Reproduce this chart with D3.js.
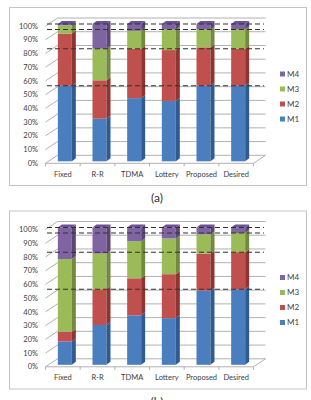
<!DOCTYPE html>
<html>
<head>
<meta charset="utf-8">
<script src="https://cdn.jsdelivr.net/npm/d3@7"></script>
<style>
    html, body { margin: 0; padding: 0; background: #fff; }
    svg { display: block; font-family: Lato, "Liberation Sans", sans-serif; }
</style>
</head>
<body>
<div id="chart"></div>
<script>
// categories and series
const categories = ["Fixed", "R-R", "TDMA", "Lottery", "Proposed", "Desired"];
const seriesNames = ["M1", "M2", "M3", "M4"];
const yTicks = [0, 10, 20, 30, 40, 50, 60, 70, 80, 90, 100];

// chart (a) values, percent
const m1a = [55, 31, 46, 44, 55, 55];
const m2a = [38, 28, 36, 37, 28, 27];
const m3a = [6, 23, 13, 15, 13, 14];
const m4a = [1, 18, 5, 4, 4, 4];

// chart (b) values, percent
const m1b = [17, 29, 36, 34, 54, 55];
const m2b = [7, 26, 27, 32, 27, 27];
const m3b = [53, 26, 27, 26, 14, 14];
const m4b = [23, 19, 10, 8, 5, 4];

// dashed reference levels (cumulative desired)
const refLevels = [55, 82, 96, 100];

const captions = ["(a)", "(b)"];

const frontColors = { M1: "#4a7ebf", M2: "#c0504d", M3: "#9bbb59", M4: "#8064a2" };
const sideColors = { M1: "#2f5b92", M2: "#8e3532", M3: "#728a40", M4: "#5c4677" };
const topColors = { M1: "#7199cf", M2: "#d37b78", M3: "#b4cd83", M4: "#6a5395" };

const W = 311, H = 400;
const svg = d3.select("#chart").append("svg")
    .attr("width", W)
    .attr("height", H);

// wall depth and bar depth
const wdx = 12, wdy = -8;
const bdx = 4, bdy = -3;
const offX = 3, offY = -2;

const x = d3.scaleBand()
    .domain(categories)
    .range([45.5, 253.5]);

const y = d3.scaleLinear()
    .domain([0, 100])
    .range([163.3, 26]);

const drawChart = (g, cols, caption) => {
    const rows = categories.map((c, i) => {
        const r = { category: c };
        seriesNames.forEach((s, k) => { r[s] = cols[k][i]; });
        return r;
    });
    const stacked = d3.stack().keys(seriesNames)(rows);

    // frame
    g.append("rect")
        .attr("x", 9.5).attr("y", 7.5)
        .attr("width", 297).attr("height", 178)
        .attr("fill", "#fff")
        .attr("stroke", "#c4c4c4")
        .attr("stroke-width", 1);

    // gridlines on side and back wall
    g.append("g")
        .selectAll("path")
        .data(yTicks)
        .enter()
        .append("path")
        .attr("d", t => {
            const y0 = y(t);
            const x0 = x.range()[0];
            return `M${x0},${y0} L${x0 + wdx},${y0 + wdy} L${x.range()[1] + wdx},${y0 + wdy}`;
        })
        .attr("fill", "none")
        .attr("stroke", "#a8a8a8")
        .attr("stroke-width", 0.9);

    // floor front edge and right edge
    const fy = y(0);
    g.append("path")
        .attr("d", `M${x.range()[0]},${fy} L${x.range()[1]},${fy} L${x.range()[1] + wdx},${fy + wdy}`)
        .attr("fill", "none")
        .attr("stroke", "#a8a8a8")
        .attr("stroke-width", 0.9);

    // category boundary ticks
    const bounds = categories.map(c => x(c)).concat([x.range()[1]]);
    g.append("g")
        .selectAll("line")
        .data(bounds)
        .enter()
        .append("line")
        .attr("x1", d => d).attr("x2", d => d)
        .attr("y1", fy).attr("y2", fy + 3)
        .attr("stroke", "#a8a8a8")
        .attr("stroke-width", 0.9);

    // y tick labels
    g.append("g")
        .selectAll("text")
        .data(yTicks)
        .enter()
        .append("text")
        .attr("x", 38)
        .attr("y", t => y(t))
        .attr("dy", "0.35em")
        .attr("text-anchor", "end")
        .style("font-size", "7.5px")
        .attr("fill", "#404040")
        .text(t => t + "%");

    // category labels
    g.append("g")
        .selectAll("text")
        .data(categories)
        .enter()
        .append("text")
        .attr("x", c => x(c) + x.bandwidth() / 2)
        .attr("y", 174)
        .attr("dy", "0.35em")
        .attr("text-anchor", "middle")
        .style("font-size", "7.5px")
        .attr("fill", "#404040")
        .text(c => c);

    // 3d bars
    const barW = 14;
    const bars = g.append("g");
    stacked.forEach(layer => {
        layer.forEach(d => {
            if (d[1] - d[0] <= 0) return;
            const xl = x(d.data.category) + x.bandwidth() / 2 - 8 + offX;
            const xr = xl + barW;
            const yb = y(d[0]) + offY;
            const yt = y(d[1]) + offY;
            bars.append("rect")
                .attr("x", xl).attr("y", yt)
                .attr("width", barW).attr("height", yb - yt)
                .attr("fill", frontColors[layer.key]);
            bars.append("path")
                .attr("d", `M${xr},${yb} L${xr + bdx},${yb + bdy} L${xr + bdx},${yt + bdy} L${xr},${yt} Z`)
                .attr("fill", sideColors[layer.key]);
        });
    });
    // top faces of the highest segment
    const last = stacked[stacked.length - 1];
    last.forEach(d => {
        const xl = x(d.data.category) + x.bandwidth() / 2 - 8 + offX;
        const xr = xl + barW;
        const yt = y(d[1]) + offY;
        bars.append("path")
            .attr("d", `M${xl},${yt} L${xl + bdx},${yt + bdy} L${xr + bdx},${yt + bdy} L${xr},${yt} Z`)
            .attr("fill", topColors[last.key]);
    });

    // dashed reference lines
    g.append("g")
        .selectAll("line")
        .data(refLevels)
        .enter()
        .append("line")
        .attr("x1", 47).attr("x2", 264)
        .attr("y1", v => y(v) + offY)
        .attr("y2", v => y(v) + offY)
        .attr("stroke", "#303030")
        .attr("stroke-width", 1.1)
        .attr("stroke-dasharray", "5,3");

    // legend
    const legend = g.append("g");
    const legendY = [119, 104, 89, 74];
    seriesNames.forEach((s, i) => {
        legend.append("rect")
            .attr("x", 280).attr("y", legendY[i] - 2.5)
            .attr("width", 5).attr("height", 5)
            .attr("fill", frontColors[s]);
        legend.append("text")
            .attr("x", 287).attr("y", legendY[i])
            .attr("dy", "0.35em")
            .style("font-size", "8px")
            .attr("fill", "#404040")
            .text(s);
    });

    // caption
    g.append("text")
        .attr("x", 157).attr("y", 198)
        .attr("dy", "0.35em")
        .attr("text-anchor", "middle")
        .style("font-size", "12px")
        .attr("fill", "#333")
        .text(caption);
};

drawChart(svg.append("g"), [m1a, m2a, m3a, m4a], captions[0]);
drawChart(svg.append("g").attr("transform", "translate(0,203.5)"), [m1b, m2b, m3b, m4b], captions[1]);
</script>
</body>
</html>
